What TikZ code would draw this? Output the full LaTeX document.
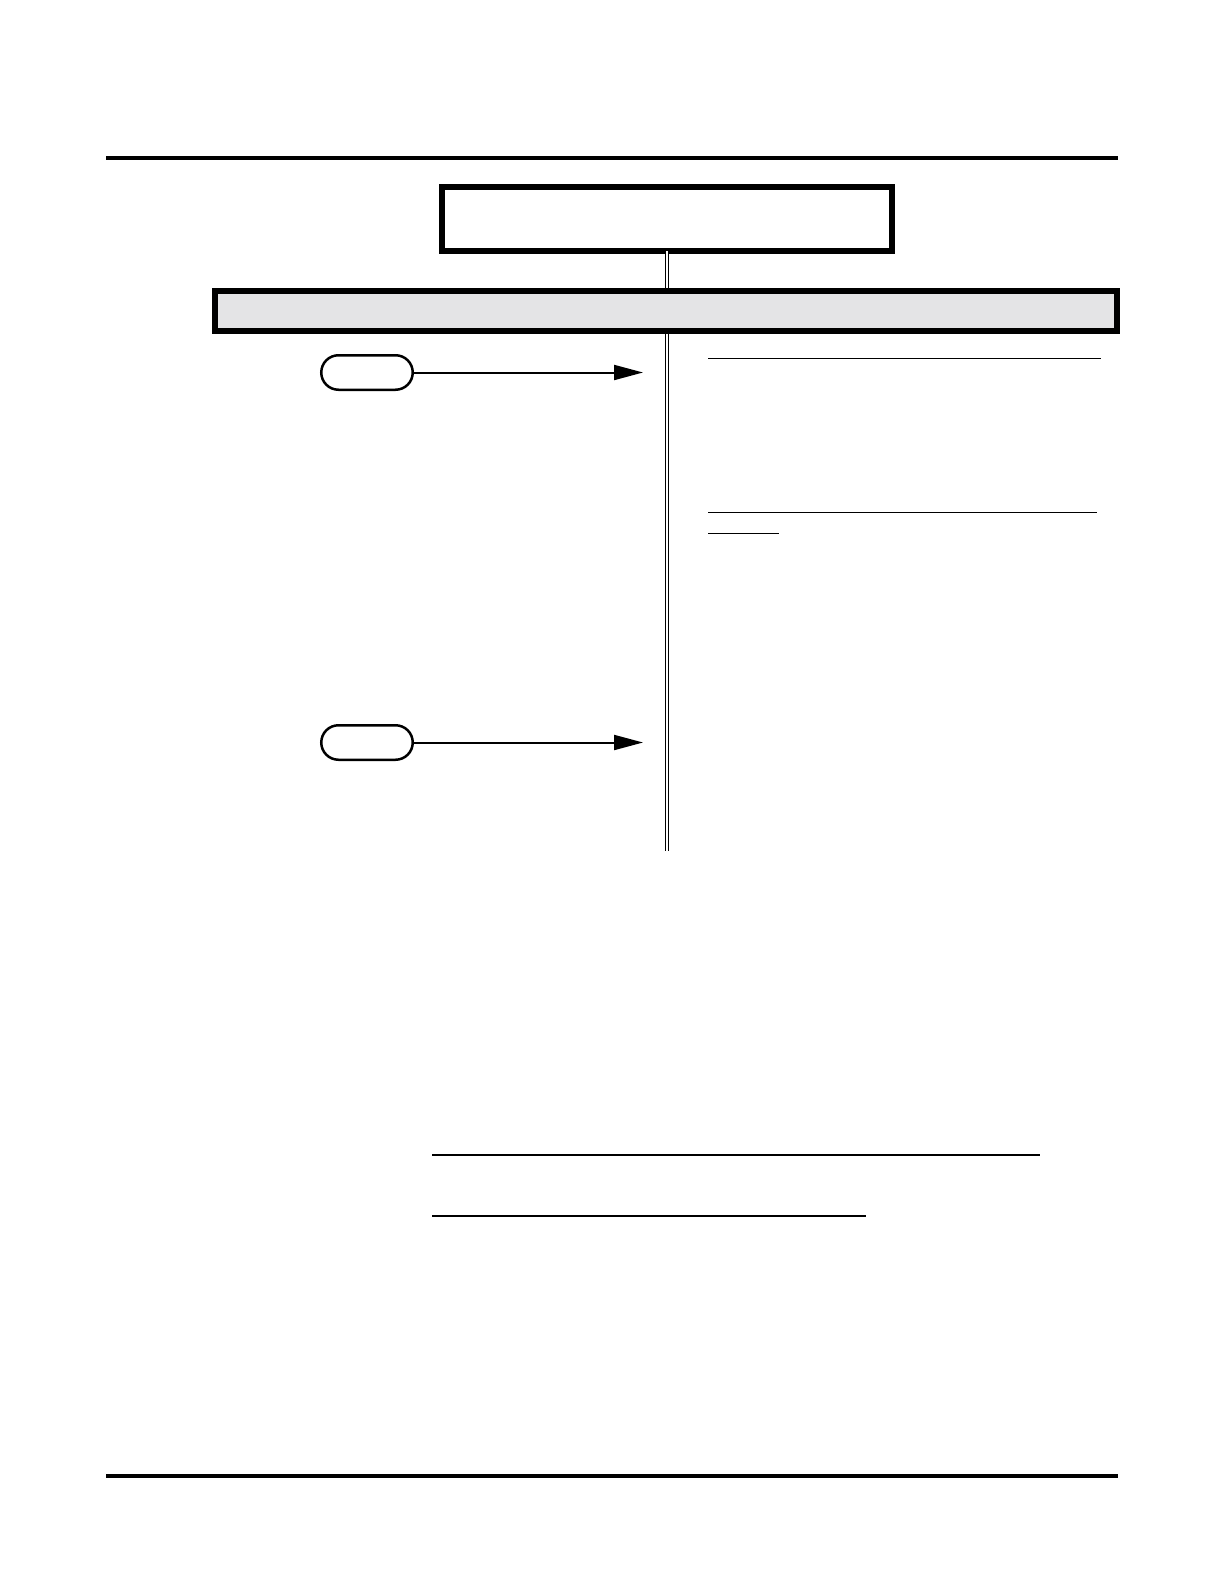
\documentclass[tikz,border=0pt]{standalone}
\usepackage{tikz}
\usetikzlibrary{arrows.meta,shapes.misc}

\definecolor{bandgray}{RGB}{228,228,230}

\begin{document}
\begin{tikzpicture}[x=1pt, y=-1pt,
    heavybox/.style={draw, line width=6pt, inner sep=0pt, outer sep=0pt},
    pill/.style={draw, rounded rectangle, line width=2.5pt, minimum width=91.5pt, minimum height=34.5pt, inner sep=0pt},
    flow/.style={line width=2pt, -{Triangle[length=29pt, width=15pt]}},
    rule/.style={line width=4pt},
    blank/.style={line width=1.5pt},
    blankwide/.style={line width=2.3pt}]

  \useasboundingbox (0,0) rectangle (1224,1584);

  % Page rules
  \draw[rule] (106,158) -- (1118,158);
  \draw[rule] (106,1476) -- (1118,1476);

  % Title box and stem
  \node[heavybox, minimum width=450pt, minimum height=64pt, fill=white] (title) at (667,219) {};
  \coordinate (stemend) at (667,851);
  \draw[line width=1pt, double, double distance=2.4pt] (title.south) -- (stemend);

  % Gray band
  \node[heavybox, minimum width=902pt, minimum height=40pt, fill=bandgray] (band) at (666,311) {};

  % Left pills with arrows
  \node[pill] (pillA) at (367,372.5) {};
  \coordinate (tipA) at (643,372.5);
  \draw[flow] (pillA.east) -- (tipA);

  \node[pill] (pillB) at (367,742.5) {};
  \coordinate (tipB) at (643,742.5);
  \draw[flow] (pillB.east) -- (tipB);

  % Right blanks
  \draw[blank] (708,358.5) -- (1101,358.5);
  \draw[blank] (708,512.3) -- (1097,512.3);
  \draw[blank] (708,533.7) -- (779,533.7);

  % Bottom blanks
  \draw[blankwide] (432,1155) -- (1040,1155);
  \draw[blankwide] (432,1216) -- (866,1216);

\end{tikzpicture}
\end{document}
